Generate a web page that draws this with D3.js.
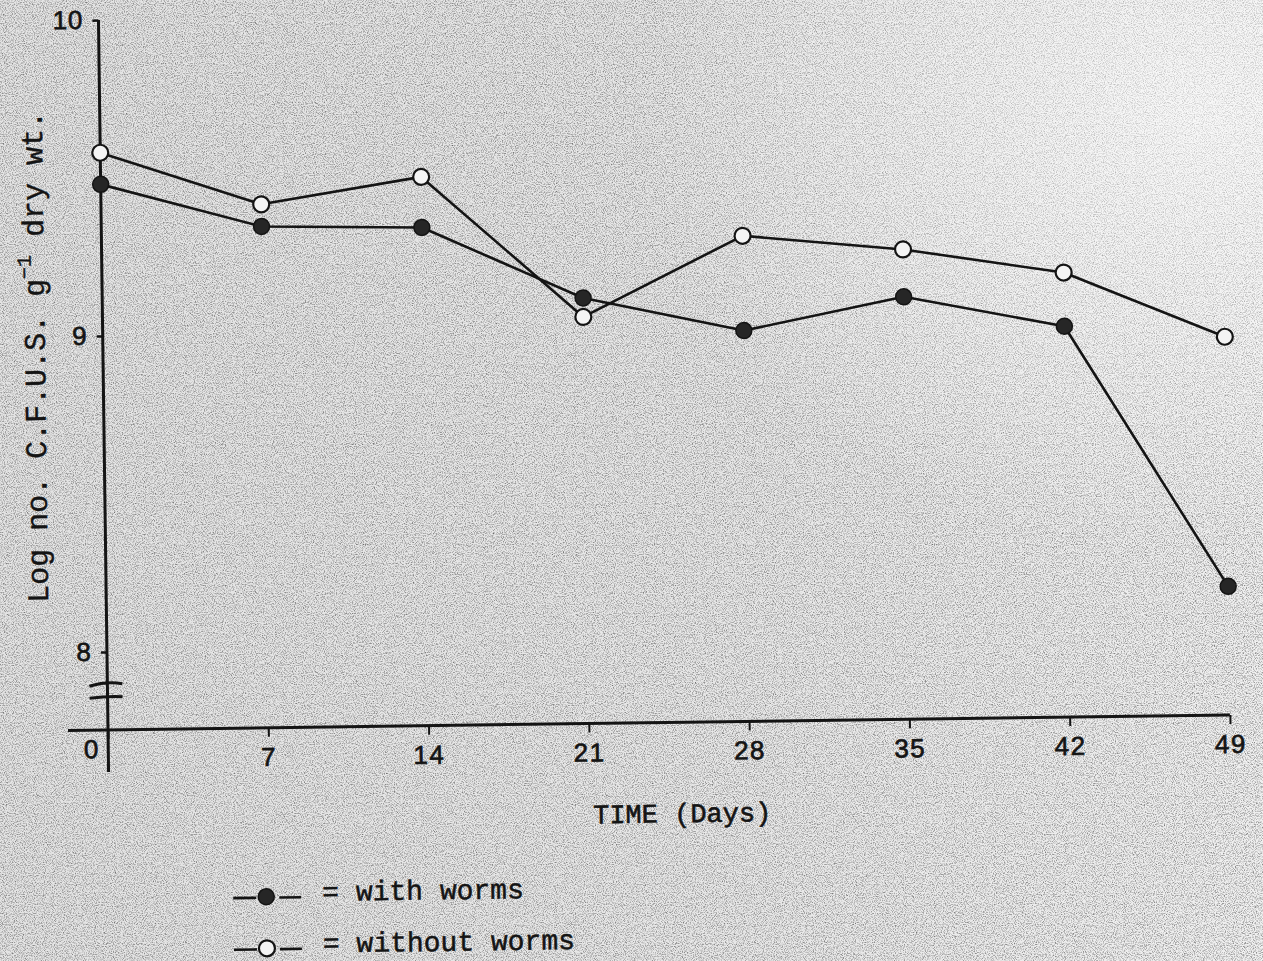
<!DOCTYPE html>
<html>
<head>
<meta charset="utf-8">
<script src="https://cdn.jsdelivr.net/npm/d3@7"></script>
<style>
  html, body { margin: 0; padding: 0; background: #d8d8d8; }
  svg { display: block; }
</style>
</head>
<body>
<svg id="chart" width="1263" height="961"></svg>
<script>
// Sampling days and log CFU counts for the two treatments
const days = [0, 7, 14, 21, 28, 35, 42, 49];
const withWorms = [9.48, 9.34, 9.33, 9.10, 8.99, 9.09, 8.99, 8.16];
const withoutWorms = [9.58, 9.41, 9.49, 9.04, 9.29, 9.24, 9.16, 8.95];
const yTicks = [8, 9, 10];
const xTickLabels = ["0", "7", "14", "21", "28", "35", "42", "49"];
const xTitle = "TIME (Days)";
const yTitleMain = "Log no. C.F.U.S. g";
const yTitleSup = "\u22121";
const yTitleTail = " dry wt.";
const legendLabels = ["= with worms", "= without worms"];

const W = 1263, H = 961;
const ink = "#141414";
const mono = "'Liberation Mono', 'Courier New', monospace";
const sans = "'Liberation Sans', Arial, sans-serif";

const svg = d3.select("#chart");
const defs = svg.append("defs");

// paper tone with a dotted grain
const paper = defs.append("linearGradient").attr("id", "paper")
  .attr("x1", 0).attr("y1", 0).attr("x2", 1).attr("y2", 0);
paper.append("stop").attr("offset", 0).attr("stop-color", "#e4e4e4");
paper.append("stop").attr("offset", 0.6).attr("stop-color", "#e8e8e8");
paper.append("stop").attr("offset", 1).attr("stop-color", "#f0f0f0");

const glow = defs.append("radialGradient").attr("id", "glow")
  .attr("cx", 0.95).attr("cy", 0.12).attr("r", 0.45);
glow.append("stop").attr("offset", 0).attr("stop-color", "#ffffff").attr("stop-opacity", 0.55);
glow.append("stop").attr("offset", 1).attr("stop-color", "#ffffff").attr("stop-opacity", 0);

const grain = defs.append("filter").attr("id", "grain")
  .attr("x", 0).attr("y", 0).attr("width", 1).attr("height", 1);
grain.append("feTurbulence").attr("type", "fractalNoise")
  .attr("baseFrequency", 0.9).attr("numOctaves", 2).attr("seed", 7);
grain.append("feColorMatrix").attr("type", "matrix")
  .attr("values", "0 0 0 0 0  0 0 0 0 0  0 0 0 0 0  1.1 0 0 0 -0.47");

svg.append("rect").attr("width", W).attr("height", H).attr("fill", "url(#paper)");
svg.append("rect").attr("width", W).attr("height", H).attr("filter", "url(#grain)");
svg.append("rect").attr("width", W).attr("height", H).attr("fill", "url(#glow)");

// the whole figure sits slightly tilted on the page
const g = svg.append("g").attr("transform", "rotate(-0.77,108,730)");

const x = d3.scaleLinear().domain([0, 49]).range([108, 1230]);
const y = d3.scaleLinear().domain([8, 10]).range([652, 20]);
const axisY = 730;

// x axis
const xAxis = g.append("g").attr("transform", `translate(0,${axisY})`)
  .call(d3.axisBottom(x).tickValues(days).tickSize(9)
    .tickFormat((d, i) => xTickLabels[i]));
xAxis.select(".domain").remove();
xAxis.selectAll(".tick line").attr("stroke", ink).attr("stroke-width", 2);
xAxis.selectAll(".tick text")
  .style("font-family", sans).style("font-size", "26px")
  .attr("fill", ink).attr("stroke", ink).attr("stroke-width", 0.7)
  .attr("letter-spacing", 1.5)
  .attr("dy", 0)
  .attr("y", d => d === 0 ? 28 : 38)
  .attr("x", d => d === 0 ? -17 : 0);
g.append("line")
  .attr("x1", 68).attr("x2", x(49))
  .attr("y1", axisY).attr("y2", axisY)
  .attr("stroke", ink).attr("stroke-width", 3);

// y axis
const yAxis = g.append("g").attr("transform", `translate(${x(0)},0)`)
  .call(d3.axisLeft(y).tickValues(yTicks).tickSize(6).tickFormat(d3.format("d")));
yAxis.select(".domain").remove();
yAxis.selectAll(".tick line").attr("stroke", ink).attr("stroke-width", 2.5);
yAxis.selectAll(".tick text")
  .style("font-family", sans).style("font-size", "26px")
  .attr("fill", ink).attr("stroke", ink).attr("stroke-width", 0.7)
  .attr("letter-spacing", 1)
  .attr("x", -15).attr("dy", 8);
g.append("line")
  .attr("x1", x(0)).attr("x2", x(0))
  .attr("y1", y(10)).attr("y2", axisY + 42)
  .attr("stroke", ink).attr("stroke-width", 3);

// axis break marks
const bx = x(0);
g.append("path")
  .attr("d", `M${bx - 18},${axisY - 44} Q${bx},${axisY - 49} ${bx + 15},${axisY - 46}`)
  .attr("fill", "none").attr("stroke", ink).attr("stroke-width", 3);
g.append("path")
  .attr("d", `M${bx - 18},${axisY - 32} Q${bx},${axisY - 34} ${bx + 15},${axisY - 33}`)
  .attr("fill", "none").attr("stroke", ink).attr("stroke-width", 3);

// axis titles
g.append("text")
  .attr("x", 681).attr("y", 830)
  .attr("text-anchor", "middle")
  .style("font-family", mono).style("font-size", "27px")
  .attr("fill", ink).attr("stroke", ink).attr("stroke-width", 0.6)
  .text(xTitle);

const yTitle = g.append("text")
  .attr("transform", "translate(50,356) rotate(-90)")
  .attr("text-anchor", "middle")
  .style("font-family", mono).style("font-size", "30px")
  .attr("fill", ink).attr("stroke", ink).attr("stroke-width", 0.4);
yTitle.append("tspan").text(yTitleMain);
yTitle.append("tspan").style("font-size", "20px").attr("dy", -13).text(yTitleSup);
yTitle.append("tspan").attr("dy", 13).text(yTitleTail);

// series
const series = [
  { values: withWorms, filled: true },
  { values: withoutWorms, filled: false }
];
const line = d3.line().x(d => x(d[0])).y(d => y(d[1]));

series.forEach(s => {
  const pts = days.map((d, i) => [d, s.values[i]]);
  g.append("path").datum(pts)
    .attr("d", line)
    .attr("fill", "none").attr("stroke", ink).attr("stroke-width", 2.6)
    .attr("stroke-linejoin", "round");
});
series.forEach(s => {
  const pts = days.map((d, i) => [d, s.values[i]]);
  g.selectAll(null).data(pts).enter().append("circle")
    .attr("cx", d => x(d[0])).attr("cy", d => y(d[1]))
    .attr("r", 8)
    .attr("fill", s.filled ? "#262626" : "#f4f4f4")
    .attr("stroke", ink).attr("stroke-width", s.filled ? 1.5 : 2.2);
});

// legend
const legendRows = [898.8, 950.4];
series.forEach((s, i) => {
  const ly = legendRows[i];
  const row = g.append("g");
  row.append("line").attr("x1", 231).attr("x2", 254).attr("y1", ly + 1).attr("y2", ly + 1)
    .attr("stroke", ink).attr("stroke-width", 2.6);
  row.append("line").attr("x1", 277).attr("x2", 299).attr("y1", ly + 1).attr("y2", ly + 1)
    .attr("stroke", ink).attr("stroke-width", 2.6);
  row.append("circle").attr("cx", 264).attr("cy", ly).attr("r", 8)
    .attr("fill", s.filled ? "#262626" : "#f4f4f4")
    .attr("stroke", ink).attr("stroke-width", s.filled ? 1.5 : 2.2);
  row.append("text")
    .attr("x", 320).attr("y", ly + 5)
    .style("font-family", mono).style("font-size", "28px")
    .attr("fill", ink).attr("stroke", ink).attr("stroke-width", 0.5)
    .attr("xml:space", "preserve")
    .text(legendLabels[i]);
});
</script>
</body>
</html>
